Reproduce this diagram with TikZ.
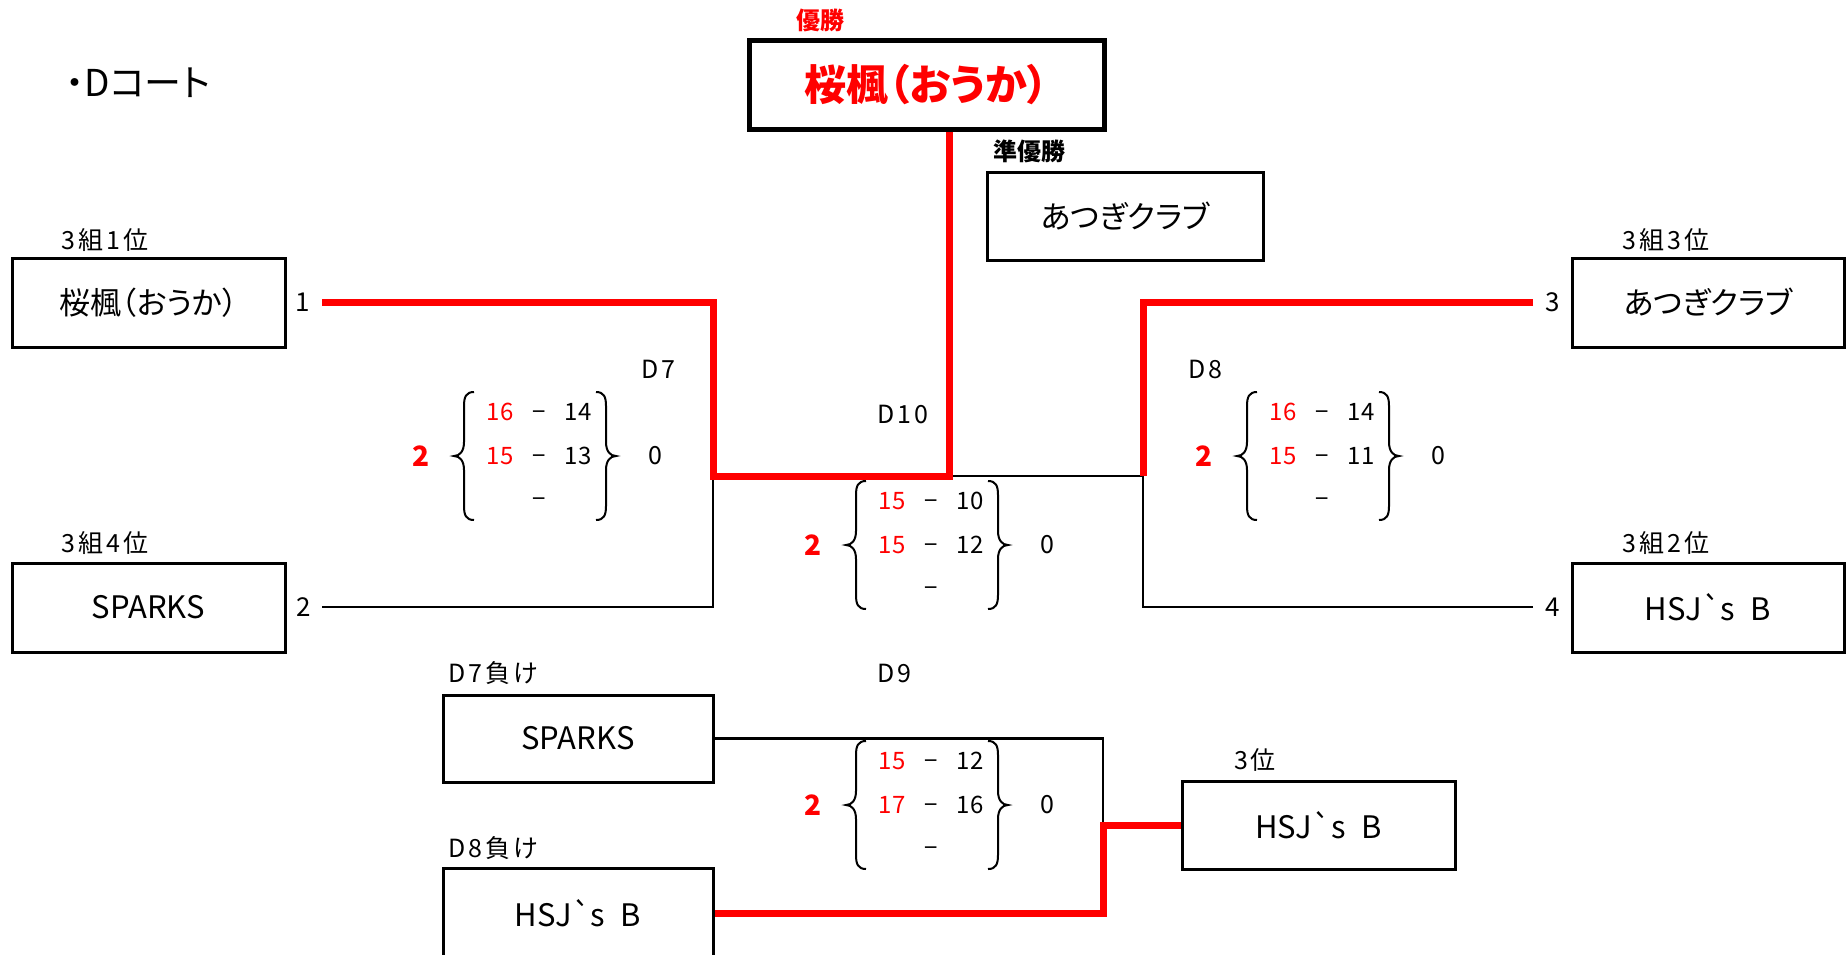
\documentclass[tikz,border=0pt]{standalone}
\usepackage{fontspec}
\setmainfont{Noto Sans CJK JP}
\newfontfamily\jpp[RawFeature=+palt]{Noto Sans CJK JP}
\newfontfamily\jpls[LetterSpace=12]{Noto Sans CJK JP}
\begin{document}
\begin{tikzpicture}[x=1pt,y=-1pt,
  tbox/.style={draw=black, line width=3pt, inner sep=0pt, fill=white,
     font=\jpp\fontsize{31}{36}\selectfont},
  sidebox/.style={tbox, minimum width=272pt, minimum height=89pt},
  lbl/.style={inner sep=0pt, font=\jpls\fontsize{25}{30}\selectfont},
  dlbl/.style={inner sep=0pt, anchor=west, font=\jpls\fontsize{25}{30}\selectfont},
  num/.style={inner sep=0pt, font=\fontsize{26}{30}\selectfont},
  scr/.style={inner sep=0pt, anchor=base, font=\fontsize{24}{28}\selectfont},
  wins/.style={inner sep=0pt, text=red, font=\bfseries\fontsize{28}{32}\selectfont},
  zs/.style={inner sep=0pt, font=\fontsize{25}{30}\selectfont},
  blk/.style={draw=black, line width=2.5pt},
  redl/.style={draw=red, line width=7pt},
  bracestroke/.style={draw=black, line width=2pt},
  lbr/.pic={\draw[bracestroke] (10,-64) .. controls (2,-64) and (0,-59) .. (0,-50) -- (0,-14) .. controls (0,-5) and (-4,0) .. (-10,0) .. controls (-4,0) and (0,5) .. (0,14) -- (0,50) .. controls (0,59) and (2,64) .. (10,64);},
  rbr/.pic={\draw[bracestroke] (-10,-64) .. controls (-2,-64) and (0,-59) .. (0,-50) -- (0,-14) .. controls (0,-5) and (4,0) .. (10,0) .. controls (4,0) and (0,5) .. (0,14) -- (0,50) .. controls (0,59) and (-2,64) .. (-10,64);}
]
\newcommand\scoreblk[7]{%
  \node[wins] (#1w) at (#2,#3) {2};
  \pic (#1l) at ({#2+43},#3) {lbr};
  \pic (#1r) at ({#2+185},#3) {rbr};
  \node[scr,text=red] (#1aa) at ({#2+79},{#3-44+8.5}) {#4};
  \node[scr] (#1da) at ({#2+118},{#3-44+8.5}) {−};
  \node[scr] (#1ba) at ({#2+157},{#3-44+8.5}) {#5};
  \node[scr,text=red] (#1ab) at ({#2+79},{#3+8.5}) {#6};
  \node[scr] (#1db) at ({#2+118},{#3+8.5}) {−};
  \node[scr] (#1bb) at ({#2+157},{#3+8.5}) {#7};
  \node[scr] (#1dc) at ({#2+118},{#3+43+8.5}) {−};
  \node[zs] (#1z) at ({#2+234},#3) {0};
}
\useasboundingbox (0,0) rectangle (1846,954);
\clip (0,0) rectangle (1846,954);
\fill[white] (0,0) rectangle (1846,954);

% title
\node[inner sep=0pt, font=\jpp\fontsize{37}{42}\selectfont] (title) at (138,83) {・Dコート};

% champion / runner-up
\node[inner sep=0pt, text=red, font=\bfseries\fontsize{24}{28}\selectfont] (yusho) at (820,20) {優勝};
\node[tbox, line width=5pt, minimum width=355pt, minimum height=89pt, text=red,
      font=\jpp\bfseries\fontsize{42}{48}\selectfont] (win) at (926.5,84.5) {桜楓（おうか）};
\node[inner sep=0pt, font=\bfseries\fontsize{24}{28}\selectfont] (jyusho) at (1029,151) {準優勝};
\node[tbox, minimum width=276pt, minimum height=88pt] (ru) at (1125,216) {あつぎクラブ};

% side boxes
\node[lbl] (l1) at (105,240) {3組1位};
\node[sidebox, minimum width=273pt] (tl) at (148.5,302.5) {桜楓（おうか）};
\node[lbl] (l4) at (105,543) {3組4位};
\node[sidebox, minimum width=273pt] (bl) at (148.5,607.5) {SPARKS};
\node[lbl] (l3) at (1666,240) {3組3位};
\node[sidebox] (tr) at (1708,302.5) {あつぎクラブ};
\node[lbl] (l2) at (1666,543) {3組2位};
\node[sidebox] (br) at (1708,607.5) {HSJ\textasciigrave s\enspace B};

\node[num] (n1) at (303,302) {1};
\node[num] (n2) at (304,607) {2};
\node[num] (n3) at (1553,302) {3};
\node[num] (n4) at (1553,607) {4};

% lower bracket
\node[dlbl] (ld7) at (448,673) {D7負け};
\node[tbox, minimum width=270pt, minimum height=87pt] (d7l) at (578,738.5) {SPARKS};
\node[dlbl] (ld8) at (448,848) {D8負け};
\node[tbox, minimum width=270pt, minimum height=90pt] (d8l) at (578,913) {HSJ\textasciigrave s\enspace B};
\node[lbl] (l3rd) at (1255,760) {3位};
\node[tbox, minimum width=273pt, minimum height=88pt] (third) at (1318.5,825) {HSJ\textasciigrave s\enspace B};

% match labels
\node[dlbl] (md7) at (641,369) {D7};
\node[dlbl] (md8) at (1188,369) {D8};
\node[dlbl] (md10) at (877,414) {D10};
\node[dlbl] (md9) at (877,673) {D9};

% junction coordinates
\coordinate (a1) at (322,302);
\coordinate (a2) at (322,607);
\coordinate (a3) at (1533,302);
\coordinate (a4) at (1533,607);
\coordinate (j7) at (713,476);
\coordinate (jc) at (949,476);
\coordinate (j8) at (1143,476);
\coordinate (j9) at (1103,825);

% black connectors
\draw[blk] (a2) -| (j7);
\draw[blk] (jc) -- (j8);
\draw[blk] (a4) -| (j8);
\draw[blk] (d7l.east) -| (j9);

% red (winning) connectors
\draw[redl] (a1) -| (j7) -- (jc) -- (jc |- win.south);
\draw[redl] (a3) -| (j8);
\draw[redl] (d8l.east) -| (j9) -- (third.west);

% scores
\scoreblk{s7}{421}{456}{16}{14}{15}{13}
\scoreblk{s10}{813}{545}{15}{10}{15}{12}
\scoreblk{s8}{1204}{456}{16}{14}{15}{11}
\scoreblk{s9}{813}{805}{15}{12}{17}{16}
\end{tikzpicture}
\end{document}
